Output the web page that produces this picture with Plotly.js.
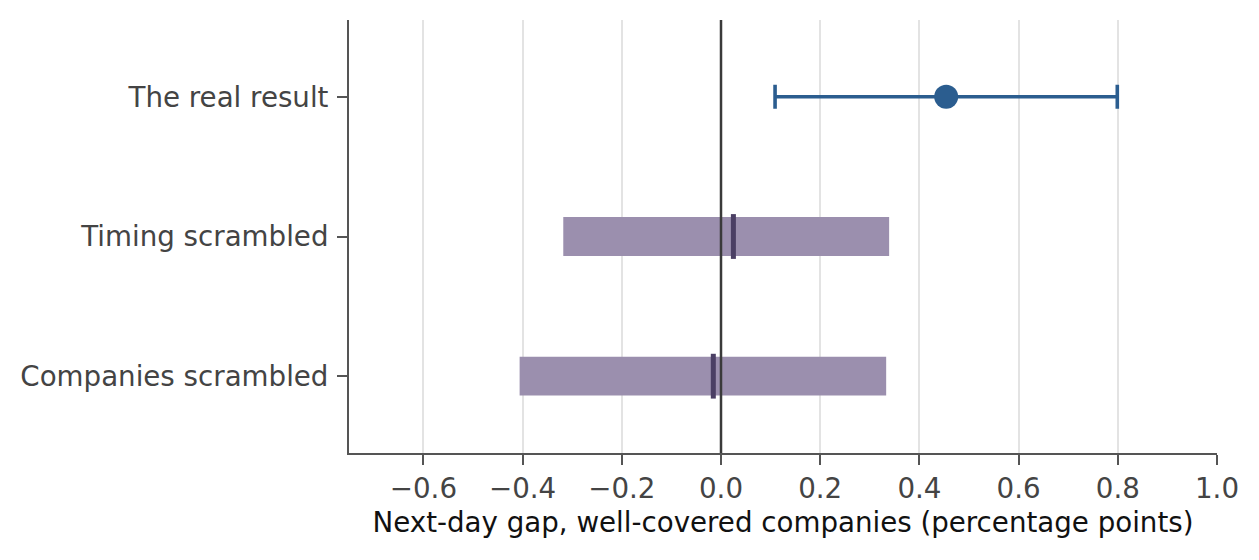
<!DOCTYPE html>
<html>
<head>
<meta charset="utf-8">
<script src="https://cdn.plot.ly/plotly-3.0.1.min.js"></script>
<style>
  html, body { margin: 0; padding: 0; background: #fff; }
  #chart { width: 1259px; height: 560px; }
</style>
</head>
<body>
<div id="chart"></div>
<script>
// Rows, bottom to top
var categories = ['Companies scrambled', 'Timing scrambled', 'The real result'];

// Placebo bands (scrambled runs): low, high, median
var placeboNames = ['Companies scrambled', 'Timing scrambled'];
var placeboLow = [-0.406, -0.318];
var placeboHigh = [0.333, 0.339];
var placeboMid = [-0.0155, 0.025];

// The real estimate with its interval
var realName = ['The real result'];
var realEst = [0.454];
var realLow = [0.109];
var realHigh = [0.799];

var xTicks = [-0.6, -0.4, -0.2, 0.0, 0.2, 0.4, 0.6, 0.8, 1.0];
var xTickText = ['\u22120.6', '\u22120.4', '\u22120.2', '0.0', '0.2', '0.4', '0.6', '0.8', '1.0'];

var band = {
  type: 'bar',
  orientation: 'h',
  y: placeboNames,
  base: placeboLow,
  x: placeboHigh.map(function(h, i) { return h - placeboLow[i]; }),
  width: 0.278,
  marker: { color: '#9b8fae', line: { width: 0 } },
  hoverinfo: 'skip',
  showlegend: false
};

var mids = {
  type: 'scatter',
  mode: 'markers',
  y: placeboNames,
  x: placeboMid,
  marker: { symbol: 'line-ns', size: 32, line: { width: 5, color: '#4b3f64' }, color: '#4b3f64' },
  hoverinfo: 'skip',
  showlegend: false
};

var real = {
  type: 'scatter',
  mode: 'markers',
  y: realName,
  x: realEst,
  marker: { size: 24, color: '#2b5d8f' },
  error_x: {
    type: 'data',
    symmetric: false,
    array: realHigh.map(function(h, i) { return h - realEst[i]; }),
    arrayminus: realEst.map(function(e, i) { return e - realLow[i]; }),
    thickness: 3.6,
    width: 12,
    color: '#2b5d8f'
  },
  hoverinfo: 'skip',
  showlegend: false
};

var font = "'DejaVu Sans', sans-serif";

var layout = {
  width: 1259,
  height: 560,
  margin: { l: 349, r: 42, t: 20, b: 107 },
  paper_bgcolor: '#ffffff',
  plot_bgcolor: '#ffffff',
  font: { family: font, size: 27.7, color: '#444444' },
  barmode: 'overlay',
  xaxis: {
    range: [-0.75, 1.0],
    tickvals: xTicks,
    ticktext: xTickText,
    showgrid: true,
    gridcolor: '#e3e3e3',
    gridwidth: 2,
    zeroline: false,
    showline: true,
    linecolor: '#555555',
    linewidth: 2,
    ticks: 'outside',
    ticklen: 10,
    tickwidth: 2,
    tickcolor: '#555555',
    tickfont: { family: font, size: 27.7, color: '#444444' },
    title: { text: 'Next-day gap, well-covered companies (percentage points)', font: { family: font, size: 27.7, color: '#111111' }, standoff: 8 }
  },
  yaxis: {
    type: 'category',
    categoryorder: 'array',
    categoryarray: categories,
    range: [-0.55, 2.55],
    showgrid: false,
    zeroline: false,
    showline: true,
    linecolor: '#555555',
    linewidth: 2,
    ticks: 'outside',
    ticklen: 10,
    tickwidth: 2,
    tickcolor: '#555555',
    ticklabelstandoff: 3,
    tickfont: { family: font, size: 27.7, color: '#444444' }
  },
  shapes: [{
    type: 'line', layer: 'above',
    xref: 'x', yref: 'paper', x0: 0, x1: 0, y0: 0, y1: 1,
    line: { color: '#3a3a3a', width: 2.5 }
  }]
};

Plotly.newPlot('chart', [band, mids, real], layout, { staticPlot: true });
</script>
</body>
</html>
